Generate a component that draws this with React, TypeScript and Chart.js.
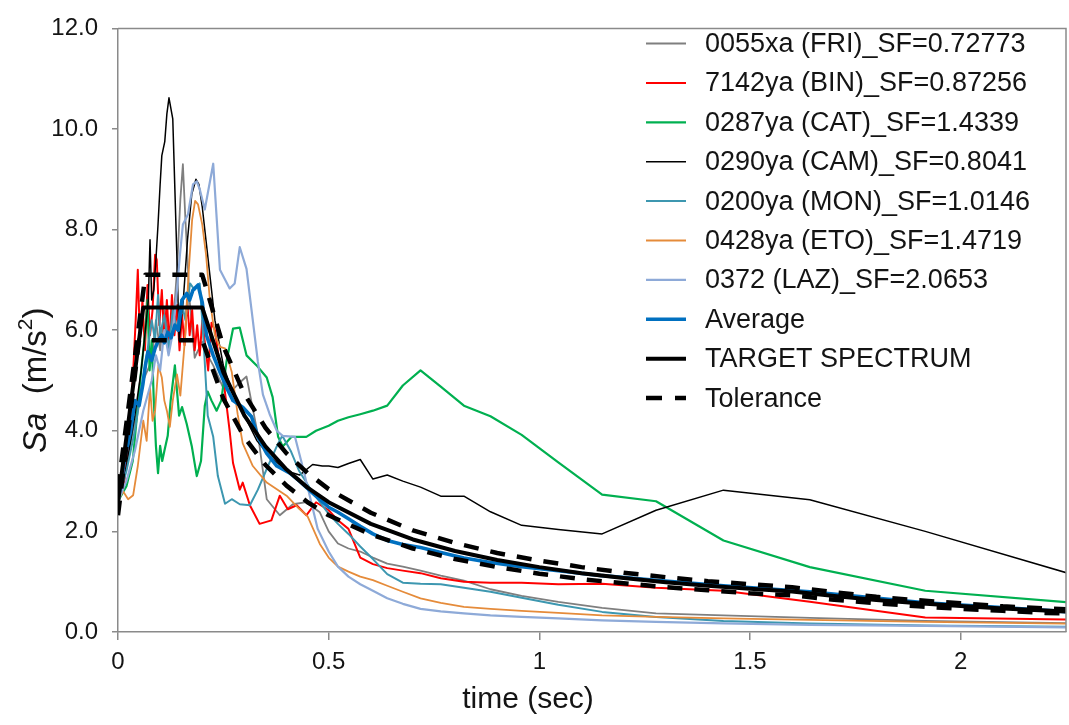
import { useEffect, useRef } from 'react';
import { Chart, registerables } from 'chart.js';

Chart.register(...registerables);

const FONT = '"Liberation Sans", Arial, Helvetica, sans-serif';
const AXIS = '#8a8a8a';
const TEXT = '#141414';

// ---- axis ticks ----
const X_MIN = 0;
const X_MAX = 2.25;
const X_STEP = 0.5;
const Y_MIN = 0;
const Y_MAX = 12;
const Y_STEP = 2;

// ---- legend labels ----
const LABELS = [
  '0055xa (FRI)_SF=0.72773',
  '7142ya (BIN)_SF=0.87256',
  '0287ya (CAT)_SF=1.4339',
  '0290ya (CAM)_SF=0.8041',
  '0200ya (MON)_SF=1.0146',
  '0428ya (ETO)_SF=1.4719',
  '0372 (LAZ)_SF=2.0653',
  'Average',
  'TARGET SPECTRUM',
  'Tolerance',
];

// ---- long-period grid shared by all records (sec) ----
const LATE_T = [0.5, 0.522, 0.547, 0.575, 0.605, 0.639, 0.676, 0.718, 0.766, 0.821, 0.884, 0.958, 1.045, 1.149, 1.277, 1.437, 1.642, 1.916, 2.299];

// ---- 0055xa (FRI) ----
const FRI_T = [0, 0.02, 0.04, 0.06, 0.08, 0.09, 0.1, 0.11, 0.12, 0.13, 0.14, 0.148, 0.154, 0.16, 0.17, 0.182, 0.19, 0.2, 0.213, 0.226, 0.25, 0.27, 0.289, 0.305, 0.333, 0.353, 0.384, 0.415, 0.447, 0.479];
const FRI_SA = [2.6, 3.3, 4.2, 5.0, 5.4, 6.2, 5.6, 6.4, 5.9, 6.0, 7.2, 8.6, 9.3, 8.2, 6.6, 5.45, 5.6, 5.77, 5.5, 5.3, 4.85, 4.8, 4.96, 5.08, 3.88, 2.64, 2.32, 2.54, 2.58, 2.38];
const FRI_LATE = [2.0, 1.76, 1.66, 1.6, 1.48, 1.36, 1.3, 1.22, 1.12, 1.02, 0.85, 0.72, 0.6, 0.48, 0.37, 0.33, 0.28, 0.22, 0.17];

// ---- 7142ya (BIN) ----
const BIN_T = [0, 0.015, 0.025, 0.035, 0.042, 0.047, 0.052, 0.058, 0.064, 0.07, 0.076, 0.082, 0.088, 0.092, 0.098, 0.104, 0.11, 0.116, 0.122, 0.128, 0.134, 0.14, 0.146, 0.152, 0.158, 0.164, 0.17, 0.176, 0.182, 0.188, 0.194, 0.2, 0.207, 0.214, 0.222, 0.23, 0.24, 0.252, 0.265, 0.273, 0.289, 0.296, 0.313, 0.336, 0.364, 0.384, 0.403, 0.424, 0.447, 0.47];
const BIN_SA = [2.6, 3.0, 3.8, 5.0, 6.2, 7.2, 5.8, 6.6, 5.6, 6.9, 5.9, 6.4, 7.5, 7.4, 6.1, 6.8, 5.8, 6.6, 5.7, 6.7, 5.9, 6.5, 5.6, 6.3, 5.7, 6.6, 5.9, 6.4, 5.6, 6.1, 5.5, 6.2, 5.7, 5.2, 6.15, 6.0, 5.4, 4.9, 4.0, 3.36, 2.83, 2.97, 2.52, 2.15, 2.22, 2.71, 2.44, 2.52, 2.32, 2.58];
const BIN_LATE = [2.42, 2.22, 2.05, 1.48, 1.35, 1.27, 1.22, 1.17, 1.07, 1.0, 0.98, 0.98, 0.95, 0.96, 0.88, 0.82, 0.6, 0.29, 0.24];

// ---- 0287ya (CAT) ----
const CAT_T = [0, 0.02, 0.035, 0.045, 0.055, 0.065, 0.07, 0.075, 0.08, 0.085, 0.09, 0.095, 0.1, 0.105, 0.11, 0.118, 0.125, 0.135, 0.145, 0.152, 0.163, 0.175, 0.187, 0.197, 0.206, 0.213, 0.222, 0.234, 0.245, 0.258, 0.273, 0.289, 0.305, 0.329, 0.353, 0.367, 0.38, 0.391, 0.412, 0.447, 0.47];
const CAT_SA = [2.6, 2.9, 3.4, 4.3, 5.2, 6.0, 6.6, 5.2, 5.8, 4.6, 3.7, 3.16, 3.7, 3.4, 3.6, 3.9, 4.6, 5.3, 4.3, 4.47, 4.14, 3.7, 3.1, 3.4, 4.5, 4.78, 4.6, 4.4, 4.6, 5.4, 6.03, 6.05, 5.5, 5.3, 5.06, 4.67, 3.88, 3.69, 3.88, 3.88, 4.0];
const CAT_LATE = [4.1, 4.2, 4.27, 4.33, 4.4, 4.5, 4.9, 5.2, 4.88, 4.5, 4.29, 3.92, 3.37, 2.73, 2.6, 1.82, 1.29, 0.82, 0.56];

// ---- 0290ya (CAM) ----
const CAM_T = [0, 0.02, 0.04, 0.055, 0.065, 0.072, 0.076, 0.08, 0.085, 0.09, 0.095, 0.1, 0.104, 0.111, 0.116, 0.121, 0.13, 0.135, 0.14, 0.145, 0.155, 0.165, 0.175, 0.185, 0.192, 0.2, 0.21, 0.218, 0.23, 0.25, 0.27, 0.3, 0.33, 0.36, 0.4, 0.431, 0.462, 0.485];
const CAM_SA = [2.5, 3.3, 4.3, 5.2, 6.0, 6.6, 7.8, 6.6, 6.8, 7.4, 8.1, 8.9, 9.47, 9.75, 10.3, 10.62, 10.2, 8.8, 7.4, 5.8, 6.6, 7.8, 8.7, 9.0, 8.9, 8.45, 7.7, 7.1, 6.2, 5.3, 4.8, 4.3, 3.8, 3.5, 3.2, 3.12, 3.33, 3.3];
const CAM_LATE = [3.3, 3.27, 3.35, 3.43, 3.04, 3.12, 3.0, 2.88, 2.7, 2.7, 2.39, 2.12, 2.04, 1.95, 2.42, 2.82, 2.63, 2.0, 1.06];

// ---- 0200ya (MON) ----
const MON_T = [0, 0.02, 0.04, 0.055, 0.07, 0.08, 0.088, 0.095, 0.1, 0.11, 0.12, 0.13, 0.14, 0.15, 0.16, 0.171, 0.182, 0.194, 0.203, 0.213, 0.226, 0.237, 0.254, 0.27, 0.289, 0.313, 0.332, 0.356, 0.38, 0.39, 0.41, 0.43, 0.46];
const MON_SA = [2.6, 3.2, 4.0, 4.8, 5.6, 6.2, 5.8, 6.7, 5.9, 6.3, 5.6, 6.4, 6.0, 6.6, 6.2, 6.93, 6.8, 6.93, 5.8, 4.3, 3.88, 3.1, 2.55, 2.64, 2.54, 2.52, 2.83, 3.3, 3.75, 3.9, 3.6, 3.2, 2.8];
const MON_LATE = [2.35, 2.15, 1.95, 1.7, 1.45, 1.15, 0.98, 0.96, 0.95, 0.88, 0.8, 0.68, 0.54, 0.4, 0.3, 0.22, 0.17, 0.13, 0.1];

// ---- 0428ya (ETO) ----
const ETO_T = [0, 0.012, 0.024, 0.036, 0.047, 0.06, 0.068, 0.076, 0.082, 0.088, 0.096, 0.104, 0.11, 0.116, 0.123, 0.13, 0.14, 0.148, 0.159, 0.168, 0.176, 0.183, 0.19, 0.2, 0.209, 0.218, 0.23, 0.242, 0.254, 0.27, 0.284, 0.296, 0.32, 0.353, 0.4, 0.43, 0.45, 0.479];
const ETO_SA = [2.6, 2.8, 2.64, 2.72, 3.3, 4.2, 3.8, 4.86, 4.2, 4.4, 5.3, 5.06, 4.6, 4.4, 4.08, 4.6, 5.12, 4.7, 5.83, 7.2, 8.2, 8.57, 8.5, 8.1, 7.5, 6.6, 5.9, 5.67, 5.64, 5.17, 4.33, 3.75, 3.3, 2.97, 2.71, 2.45, 2.3, 1.75];
const ETO_LATE = [1.48, 1.3, 1.2, 1.1, 1.03, 0.92, 0.8, 0.67, 0.58, 0.5, 0.46, 0.42, 0.38, 0.33, 0.3, 0.27, 0.24, 0.2, 0.16];

// ---- 0372 (LAZ) ----
const LAZ_T = [0, 0.02, 0.04, 0.06, 0.08, 0.09, 0.1, 0.11, 0.12, 0.13, 0.14, 0.147, 0.154, 0.166, 0.178, 0.187, 0.194, 0.206, 0.226, 0.242, 0.265, 0.277, 0.289, 0.305, 0.317, 0.332, 0.344, 0.36, 0.377, 0.391, 0.42, 0.436, 0.455, 0.474];
const LAZ_SA = [2.6, 3.0, 3.6, 4.4, 5.0, 5.5, 5.2, 6.0, 5.5, 5.95, 6.8, 7.5, 8.1, 8.3, 8.9, 8.96, 8.8, 8.4, 9.31, 7.2, 6.83, 6.93, 7.65, 7.22, 6.4, 5.37, 4.72, 4.33, 4.0, 3.9, 3.88, 3.36, 2.71, 2.05];
const LAZ_LATE = [1.6, 1.3, 1.1, 0.95, 0.82, 0.67, 0.56, 0.46, 0.41, 0.37, 0.33, 0.3, 0.27, 0.23, 0.2, 0.17, 0.14, 0.12, 0.09];

// ---- Average ----
const AVG_T = [0, 0.017, 0.03, 0.04, 0.05, 0.059, 0.065, 0.071, 0.08, 0.088, 0.096, 0.104, 0.11, 0.118, 0.126, 0.135, 0.143, 0.152, 0.163, 0.17, 0.178, 0.19, 0.2, 0.21, 0.226, 0.242, 0.258, 0.273, 0.296, 0.317, 0.332, 0.353, 0.377, 0.408, 0.431, 0.47];
const AVG_SA = [2.6, 3.5, 4.0, 4.6, 4.5, 4.92, 5.3, 5.57, 5.4, 5.64, 5.8, 5.9, 5.75, 5.96, 5.85, 6.1, 6.0, 6.6, 6.73, 6.6, 6.8, 6.9, 6.55, 5.9, 5.5, 5.17, 4.85, 4.6, 4.47, 4.28, 3.88, 3.55, 3.3, 3.16, 3.0, 2.7];
const AVG_LATE = [2.48, 2.38, 2.25, 2.1, 1.95, 1.82, 1.74, 1.68, 1.58, 1.47, 1.38, 1.3, 1.22, 1.12, 1.03, 0.92, 0.8, 0.58, 0.38];

// ---- Target spectrum and tolerance ----
const TARGET_T = [0, 0.06, 0.2, 0.25, 0.3, 0.35, 0.4, 0.45, 0.5, 0.6, 0.7, 0.8, 0.9, 1.0, 1.1, 1.2, 1.3, 1.4, 1.5, 1.6, 1.7, 1.8, 1.9, 2.0, 2.1, 2.2, 2.25];
const TARGET_SA = [2.58, 6.45, 6.45, 5.16, 4.3, 3.69, 3.23, 2.87, 2.58, 2.15, 1.84, 1.61, 1.43, 1.29, 1.17, 1.075, 0.99, 0.92, 0.86, 0.806, 0.714, 0.637, 0.572, 0.516, 0.468, 0.426, 0.408];
const TOL_UP_T = [0, 0.065, 0.2, 0.25, 0.3, 0.35, 0.4, 0.45, 0.5, 0.6, 0.7, 0.8, 0.9, 1.0, 1.1, 1.2, 1.3, 1.4, 1.5, 1.6, 1.7, 1.8, 1.9, 2.0, 2.1, 2.2, 2.25];
const TOL_UP_SA = [2.84, 7.1, 7.1, 5.68, 4.73, 4.06, 3.55, 3.16, 2.84, 2.37, 2.02, 1.77, 1.57, 1.42, 1.29, 1.18, 1.09, 1.01, 0.95, 0.89, 0.79, 0.7, 0.63, 0.57, 0.51, 0.47, 0.45];
const TOL_LO_T = [0, 0.05, 0.2, 0.25, 0.3, 0.35, 0.4, 0.45, 0.5, 0.6, 0.7, 0.8, 0.9, 1.0, 1.1, 1.2, 1.3, 1.4, 1.5, 1.6, 1.7, 1.8, 1.9, 2.0, 2.1, 2.2, 2.25];
const TOL_LO_SA = [2.32, 5.8, 5.8, 4.64, 3.87, 3.32, 2.91, 2.58, 2.32, 1.94, 1.66, 1.45, 1.29, 1.16, 1.05, 0.97, 0.89, 0.83, 0.77, 0.73, 0.64, 0.57, 0.51, 0.46, 0.42, 0.38, 0.37];

// ---- styles ----
const COLORS = ['#7f7f7f', '#ff0000', '#00b050', '#000000', '#3d97b0', '#e58b3a', '#8eaad8', '#0070c0', '#000000', '#000000'];
const WIDTHS = [1.8, 2, 2.2, 1.5, 2, 1.8, 2.2, 3.6, 4, 4.5];
const DASH = [15, 12];

const pts = (t: number[], s: number[]) => t.map((x, i) => ({ x, y: s[i] }));

const RECORDS = [
  { t: FRI_T, sa: FRI_SA, late: FRI_LATE },
  { t: BIN_T, sa: BIN_SA, late: BIN_LATE },
  { t: CAT_T, sa: CAT_SA, late: CAT_LATE },
  { t: CAM_T, sa: CAM_SA, late: CAM_LATE },
  { t: MON_T, sa: MON_SA, late: MON_LATE },
  { t: ETO_T, sa: ETO_SA, late: ETO_LATE },
  { t: LAZ_T, sa: LAZ_SA, late: LAZ_LATE },
];

function buildDatasets() {
  const common = { pointRadius: 0, fill: false, tension: 0, clip: 0, borderJoinStyle: 'round' as const };
  const ds: any[] = RECORDS.map((r, i) => ({
    ...common,
    label: LABELS[i],
    data: [...pts(r.t, r.sa), ...pts(LATE_T, r.late)],
    borderColor: COLORS[i],
    borderWidth: WIDTHS[i],
    order: 20 - i,
  }));
  ds.push({ ...common, label: LABELS[7], data: [...pts(AVG_T, AVG_SA), ...pts(LATE_T, AVG_LATE)], borderColor: COLORS[7], borderWidth: WIDTHS[7], order: 3 });
  ds.push({ ...common, label: LABELS[8], data: pts(TARGET_T, TARGET_SA), borderColor: COLORS[8], borderWidth: WIDTHS[8], order: 2 });
  ds.push({ ...common, label: LABELS[9], data: pts(TOL_UP_T, TOL_UP_SA), borderColor: COLORS[9], borderWidth: WIDTHS[9], borderDash: DASH, order: 1 });
  ds.push({ ...common, label: LABELS[9] + ' ', data: pts(TOL_LO_T, TOL_LO_SA), borderColor: COLORS[9], borderWidth: WIDTHS[9], borderDash: DASH, order: 1 });
  return ds;
}

const framePlugin = {
  id: 'frame',
  afterDraw(chart: any) {
    const { ctx, chartArea: a } = chart;
    ctx.save();
    ctx.strokeStyle = AXIS;
    ctx.lineWidth = 1.5;
    ctx.beginPath();
    ctx.moveTo(a.left, a.top);
    ctx.lineTo(a.right, a.top);
    ctx.lineTo(a.right, a.bottom);
    ctx.stroke();
    ctx.restore();
  },
};

const legendPlugin = {
  id: 'customLegend',
  afterDraw(chart: any) {
    const { ctx } = chart;
    const x0 = 646;
    const x1 = 686;
    const tx = 705;
    const y0 = 43.5;
    const dy = 39.4;
    ctx.save();
    LABELS.forEach((label, i) => {
      const y = y0 + i * dy;
      ctx.beginPath();
      ctx.strokeStyle = COLORS[i];
      ctx.lineWidth = Math.min(WIDTHS[i], 4.5);
      ctx.setLineDash(i === 9 ? [16, 13] : []);
      ctx.lineCap = 'butt';
      ctx.moveTo(x0, y);
      ctx.lineTo(x1, y);
      ctx.stroke();
      ctx.setLineDash([]);
      ctx.fillStyle = TEXT;
      ctx.font = `27px ${FONT}`;
      ctx.textAlign = 'left';
      ctx.textBaseline = 'middle';
      ctx.fillText(label, tx, y + 1);
    });
    ctx.restore();
  },
};

const titlesPlugin = {
  id: 'titles',
  afterDraw(chart: any) {
    const { ctx } = chart;
    ctx.save();
    ctx.fillStyle = TEXT;
    ctx.textBaseline = 'middle';
    ctx.textAlign = 'center';
    ctx.font = `30px ${FONT}`;
    ctx.fillText('time (sec)', 528, 700);

    ctx.translate(37, 453);
    ctx.rotate(-Math.PI / 2);
    ctx.textAlign = 'left';
    let x = 0;
    ctx.font = `italic 33px ${FONT}`;
    ctx.fillText('Sa', x, 0);
    x += ctx.measureText('Sa').width;
    ctx.font = `33px ${FONT}`;
    const p1 = '  (m/s';
    ctx.fillText(p1, x, 0);
    x += ctx.measureText(p1).width;
    ctx.font = `21px ${FONT}`;
    ctx.fillText('2', x, -11);
    x += ctx.measureText('2').width;
    ctx.font = `33px ${FONT}`;
    ctx.fillText(')', x, 0);
    ctx.restore();
  },
};

export default function App() {
  const ref = useRef<HTMLCanvasElement | null>(null);
  useEffect(() => {
    if (!ref.current) return;
    const chart = new Chart(ref.current, {
      type: 'line',
      data: { datasets: buildDatasets() },
      options: {
        animation: false,
        responsive: false,
        devicePixelRatio: 1,
        layout: { padding: { top: 17, right: 3, left: 0, bottom: 0 } },
        plugins: { legend: { display: false }, tooltip: { enabled: false } },
        elements: { point: { radius: 0 }, line: { tension: 0 } },
        scales: {
          x: {
            type: 'linear',
            min: X_MIN,
            max: X_MAX,
            border: { display: true, color: AXIS, width: 1.5 },
            grid: { drawOnChartArea: false, drawTicks: true, tickLength: 8, color: AXIS, lineWidth: 1.5 },
            ticks: {
              stepSize: X_STEP,
              includeBounds: false,
              autoSkip: false,
              maxRotation: 0,
              padding: 8,
              color: TEXT,
              font: { family: FONT, size: 24 },
              callback: (v: any) => String(v),
            },
            afterFit: (s: any) => { s.height = 93; },
          },
          y: {
            type: 'linear',
            min: Y_MIN,
            max: Y_MAX,
            border: { display: true, color: AXIS, width: 1.5 },
            grid: { drawOnChartArea: false, drawTicks: true, tickLength: 6, color: AXIS, lineWidth: 1.5 },
            ticks: {
              stepSize: Y_STEP,
              padding: 14,
              color: TEXT,
              font: { family: FONT, size: 24 },
              callback: (v: any) => Number(v).toFixed(1),
            },
            afterFit: (s: any) => { s.width = 118; },
          },
        },
      } as any,
      plugins: [framePlugin, legendPlugin, titlesPlugin],
    });
    return () => chart.destroy();
  }, []);
  return (
    <div style={{ position: 'fixed', left: 0, top: 0, width: 1069, height: 725, background: '#fff' }}>
      <canvas ref={ref} width={1069} height={725} style={{ display: 'block', width: 1069, height: 725 }} />
    </div>
  );
}
